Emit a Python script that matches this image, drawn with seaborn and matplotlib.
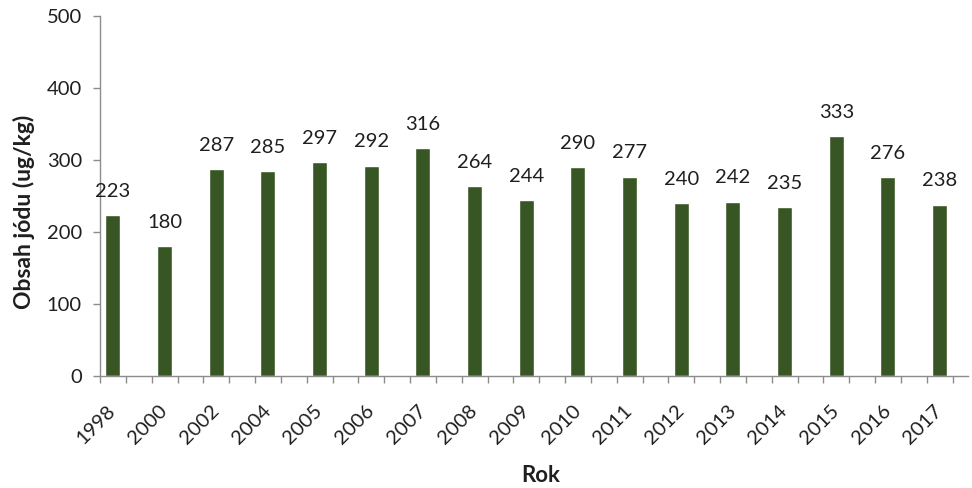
import matplotlib
matplotlib.use("Agg")
import matplotlib.pyplot as plt
from matplotlib.ticker import FixedLocator
import seaborn as sns
import pandas as pd

years = ["1998", "2000", "2002", "2004", "2005", "2006", "2007", "2008", "2009",
         "2010", "2011", "2012", "2013", "2014", "2015", "2016", "2017"]
iodine = [223, 180, 287, 285, 297, 292, 316, 264, 244,
          290, 277, 240, 242, 235, 333, 276, 238]

bar_color = "#375623"
text_color = "#1f1f1f"
axis_color = "#8c8c8c"

sns.set_theme(style="white")
plt.rcParams["font.family"] = ["Lato", "DejaVu Sans"]

df = pd.DataFrame({"Rok": years, "Obsah": iodine})

fig = plt.figure(figsize=(9.72, 4.88), dpi=100)
ax = fig.add_axes([100 / 972, 1 - 376 / 488, 868 / 972, 360 / 488])

sns.barplot(data=df, x="Rok", y="Obsah", color=bar_color, saturation=1,
            width=0.29, ax=ax)

for i, v in enumerate(iodine):
    ax.annotate(str(v), (i, v), xytext=(0, 11), textcoords="offset points",
                ha="center", va="bottom", fontsize=14.5, color=text_color)

ax.set_ylim(0, 500)
ax.set_yticks(range(0, 501, 100))
ax.set_xlim(-0.25, 16.55)

# tick marks sit a quarter category either side of each bar
edges = []
for i in range(len(years)):
    edges += [i - 0.25, i + 0.25]
ax.xaxis.set_minor_locator(FixedLocator(edges))

ax.tick_params(axis="y", which="major", length=5, width=1, color=axis_color,
               direction="out", labelsize=14.5, labelcolor=text_color, pad=8,
               left=True)
ax.tick_params(axis="x", which="major", length=0, labelsize=14.5,
               labelcolor=text_color, pad=23)
ax.tick_params(axis="x", which="minor", length=5, width=1, color=axis_color,
               direction="out", bottom=True)

for lbl in ax.get_xticklabels():
    lbl.set_rotation(45)
    lbl.set_rotation_mode("anchor")
    lbl.set_ha("right")
    lbl.set_va("center")

for side in ["top", "right"]:
    ax.spines[side].set_visible(False)
for side in ["left", "bottom"]:
    ax.spines[side].set_color(axis_color)
    ax.spines[side].set_linewidth(1)

ax.set_xlabel("")
ax.set_ylabel("")
fig.text(541 / 972, 1 - 476 / 488, "Rok", ha="center", va="center",
         fontsize=16, fontweight="bold", color=text_color)
fig.text(24 / 972, 1 - 212 / 488, "Obsah jódu (ug/kg)", ha="center",
         va="center", rotation=90, fontsize=16.5, fontweight="bold",
         color=text_color)

fig.savefig("out.png", dpi=100, facecolor="white")
